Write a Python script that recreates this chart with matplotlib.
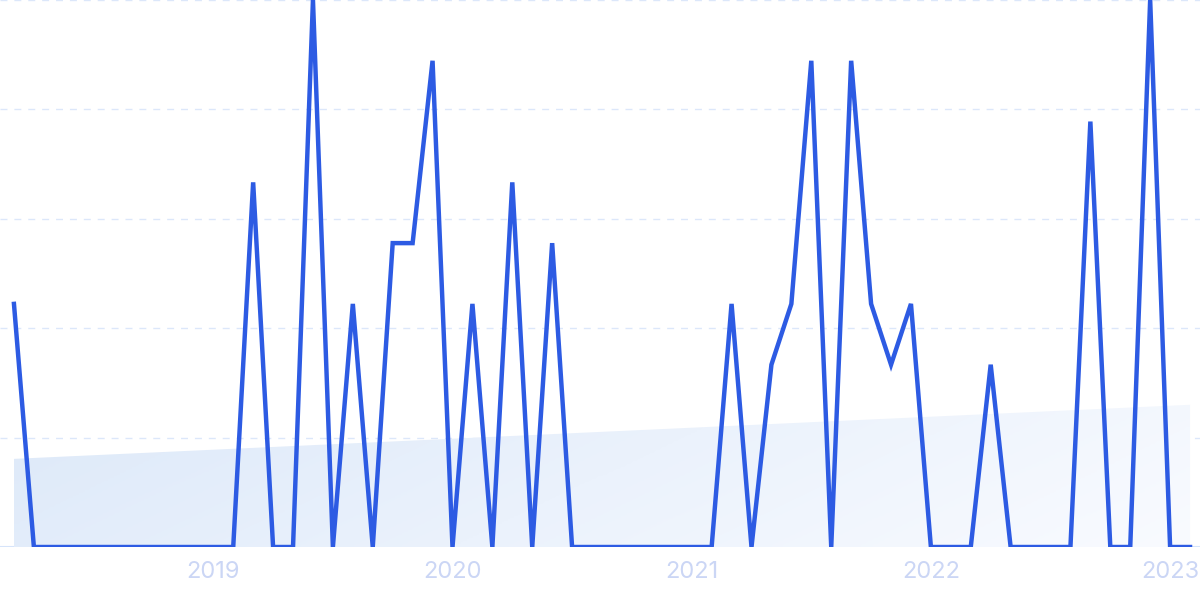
import numpy as np
import matplotlib.pyplot as plt
from matplotlib.colors import LinearSegmentedColormap
from matplotlib.patches import Polygon

# Monthly counts, Mar 2018 .. Feb 2023
counts = [4, 0, 0, 0, 0, 0, 0, 0, 0, 0, 0, 0,   # 2018-03 .. 2019-02
          6, 0, 0, 9, 0, 4, 0, 5, 5, 8, 0, 4,   # 2019-03 .. 2020-02
          0, 6, 0, 5, 0, 0, 0, 0, 0, 0, 0, 0,   # 2020-03 .. 2021-02
          4, 0, 3, 4, 8, 0, 8, 4, 3, 4, 0, 0,   # 2021-03 .. 2022-02
          0, 3, 0, 0, 0, 0, 7, 0, 0, 9, 0, 0]   # 2022-03 .. 2023-02
years = ["2019", "2020", "2021", "2022", "2023"]
year_pos = [10, 22, 34, 46, 58]   # month index of each January
trend = [1.45, 2.34]              # trend line at first and last month

x = np.arange(len(counts))

fig = plt.figure(figsize=(12, 5.99), dpi=100)
ax = fig.add_axes([0, 0.0868, 1, 0.9132])
ax.set_xlim(-0.70, 59.5)
ax.set_ylim(0, 9)

# grid
for g in np.linspace(0, 9, 6)[1:]:
    ax.axhline(g, color="#dce7fa", lw=1, ls=(0, (5, 5)), zorder=0)
ax.axhline(0, color="#d6e4fa", lw=1.5, zorder=1)

# trend area with gradient
poly = Polygon([(x[0], 0), (x[0], trend[0]), (x[-1], trend[1]), (x[-1], 0)],
               closed=True, facecolor="none", edgecolor="none")
ax.add_patch(poly)
cmap = LinearSegmentedColormap.from_list("fade", ["#f9fbff", "#dde9f9"])
gx, gy = np.meshgrid(np.linspace(0, 1, 200), np.linspace(0, 1, 50))
grad = 0.8 * (1 - gx) + 0.2 * gy
img = ax.imshow(grad, extent=(x[0], x[-1], 0, trend[1]), origin="lower",
                cmap=cmap, vmin=0, vmax=1, aspect="auto", zorder=1)
img.set_clip_path(poly)

ax.plot(x, counts, color="#2d5be3", lw=3.2, solid_joinstyle="miter", zorder=3)

ax.set_xticks(year_pos)
ax.set_xticklabels(years)
ax.set_yticks([])
ax.tick_params(axis="x", length=0, pad=10, labelsize=17, labelcolor="#cbd6f5")
for lab in ax.get_xticklabels():
    lab.set_fontfamily("Inter")
for s in ax.spines.values():
    s.set_visible(False)

fig.savefig("out.png", dpi=100)
